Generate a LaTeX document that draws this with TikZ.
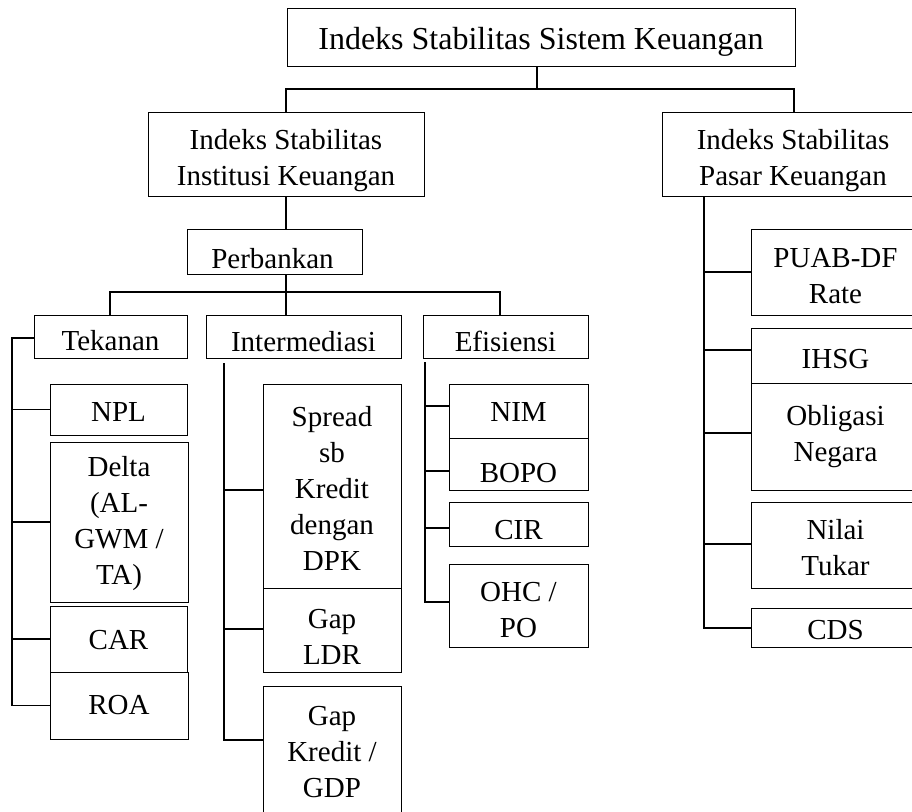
\documentclass[tikz,border=0pt]{standalone}
\usepackage{fontspec}
\setmainfont{Liberation Serif}
\newcommand\fs{\fontsize{29}{36}\selectfont}
\newcommand\fstitle{\fontsize{32}{38}\selectfont}
\begin{document}
\begin{tikzpicture}[x=1pt,y=-1pt,
  box/.style={draw,line width=1pt,inner sep=0pt},
  txt/.style={font=\fs,align=center,inner sep=0pt},
  conn/.style={line width=1.6pt}]
\useasboundingbox (0,0) rectangle (912,811);
% level 0 and 1
\node[box,minimum width=508pt,minimum height=58pt,label={[txt,font=\fstitle,yshift=-5pt]center:Indeks Stabilitas Sistem Keuangan}] (title) at (541,37) {};
\node[box,minimum width=276pt,minimum height=84pt,label={[txt,yshift=-6.5pt]center:{Indeks Stabilitas\\Institusi Keuangan}}] (isik) at (286,154) {};
\node[box,minimum width=258pt,minimum height=84pt,label={[txt,yshift=-7pt,xshift=2pt]center:{Indeks Stabilitas\\Pasar Keuangan}}] (ispk) at (791,154) {};
\node[box,minimum width=175pt,minimum height=45pt,label={[txt,yshift=-7.5pt,xshift=-2pt]center:Perbankan}] (perb) at (274.5,251.5) {};
% level 3
\node[box,minimum width=153pt,minimum height=43pt,label={[txt,yshift=-4.5pt]center:Tekanan}] (tek) at (110.5,336.5) {};
\node[box,minimum width=195pt,minimum height=43pt,label={[txt,yshift=-5pt]center:Intermediasi}] (inter) at (303.5,336.5) {};
\node[box,minimum width=165pt,minimum height=43pt,label={[txt,yshift=-5pt]center:Efisiensi}] (eff) at (505.5,336.5) {};
% Tekanan children
\node[box,minimum width=137pt,minimum height=51pt,label={[txt,yshift=-2.5pt]center:NPL}] (npl) at (118.5,409.5) {};
\node[box,minimum width=138pt,minimum height=160pt,label={[txt,yshift=-1.5pt]center:{Delta\\(AL-\\GWM /\\TA)}}] (delta) at (119,522) {};
\node[box,minimum width=137pt,minimum height=66pt,label={[txt,yshift=-1.5pt]center:CAR}] (car) at (118.5,639) {};
\node[box,minimum width=138pt,minimum height=67pt,label={[txt]center:ROA}] (roa) at (119,705.5) {};
% Intermediasi children
\node[box,minimum width=138pt,minimum height=204pt,label={[txt,yshift=-2.5pt]center:{Spread\\sb\\Kredit\\dengan\\DPK}}] (spread) at (332,486) {};
\node[box,minimum width=138pt,minimum height=84pt,label={[txt,yshift=-7pt]center:{Gap\\LDR}}] (gapl) at (332,630) {};
\node[box,minimum width=138pt,minimum height=132pt,label={[txt]center:{Gap\\Kredit /\\GDP}}] (gapk) at (332,752) {};
% Efisiensi children
\node[box,minimum width=139pt,minimum height=54pt,label={[txt,yshift=-1pt]center:NIM}] (nim) at (518.5,411) {};
\node[box,minimum width=139pt,minimum height=52pt,label={[txt,yshift=-9pt]center:BOPO}] (bopo) at (518.5,464) {};
\node[box,minimum width=139pt,minimum height=44pt,label={[txt,yshift=-6pt]center:CIR}] (cir) at (518.5,524) {};
\node[box,minimum width=139pt,minimum height=83pt,label={[txt,yshift=-4.5pt]center:{OHC /\\PO}}] (ohc) at (518.5,605.5) {};
% Pasar children
\node[box,minimum width=169pt,minimum height=86pt,label={[txt,yshift=-4.5pt]center:{PUAB-DF\\Rate}}] (puab) at (835.5,272) {};
\node[box,minimum width=169pt,minimum height=55pt,label={[txt,yshift=-3.5pt]center:IHSG}] (ihsg) at (835.5,355.5) {};
\node[box,minimum width=169pt,minimum height=107pt,label={[txt]center:{Obligasi\\Negara}}] (obl) at (835.5,436.5) {};
\node[box,minimum width=169pt,minimum height=86pt,label={[txt,yshift=-3pt]center:{Nilai\\Tukar}}] (nilai) at (835.5,545) {};
\node[box,minimum width=169pt,minimum height=39pt,label={[txt,yshift=-2.5pt]center:CDS}] (cds) at (835.5,627.5) {};
% connectors: top
\coordinate (j1) at (537,89);
\draw[conn] (title.south -| j1) -- (j1);
\draw[conn] (isik.north) |- (j1) -| (794,112);
% ISIK -> Perbankan
\draw[conn] (isik.south) -- (isik.south |- perb.north);
\coordinate (j2) at (286,292);
\coordinate (j2l) at (110,292);
\coordinate (j2r) at (500,292);
\draw[conn] (perb.south -| j2) -- (j2);
\draw[conn] (tek.north -| j2l) -- (j2l) -- (j2r) -- (eff.north -| j2r);
\draw[conn] (j2) -- (inter.north -| j2);
% Tekanan trunk
\coordinate (t0) at (12,338);
\draw[conn] (tek.west |- t0) -- (t0) |- (roa.west);
\draw[conn] (t0 |- npl.west) -- (npl.west);
\draw[conn] (t0 |- delta.west) -- (delta.west);
\draw[conn] (t0 |- car.west) -- (car.west);
% Intermediasi trunk
\coordinate (i0) at (224,363);
\coordinate (i1) at (224,740);
\draw[conn] (i0) -- (i1) -- (i1 -| gapk.west);
\draw[conn] (i0 |- 0,490) -- (spread.west |- 0,490);
\draw[conn] (i0 |- 0,629) -- (gapl.west |- 0,629);
% Efisiensi trunk
\coordinate (e0) at (425,362);
\coordinate (e1) at (425,602);
\draw[conn] (e0) -- (e1) -- (e1 -| ohc.west);
\draw[conn] (e0 |- 0,406) -- (nim.west |- 0,406);
\draw[conn] (e0 |- 0,471) -- (bopo.west |- 0,471);
\draw[conn] (e0 |- 0,528) -- (cir.west |- 0,528);
% Pasar trunk
\coordinate (p0) at (704,196);
\coordinate (p1) at (704,628);
\draw[conn] (p0) -- (p1) -- (p1 -| cds.west);
\draw[conn] (p0 |- puab.west) -- (puab.west);
\draw[conn] (p0 |- 0,350) -- (ihsg.west |- 0,350);
\draw[conn] (p0 |- 0,433) -- (obl.west |- 0,433);
\draw[conn] (p0 |- 0,544) -- (nilai.west |- 0,544);
\end{tikzpicture}
\end{document}
